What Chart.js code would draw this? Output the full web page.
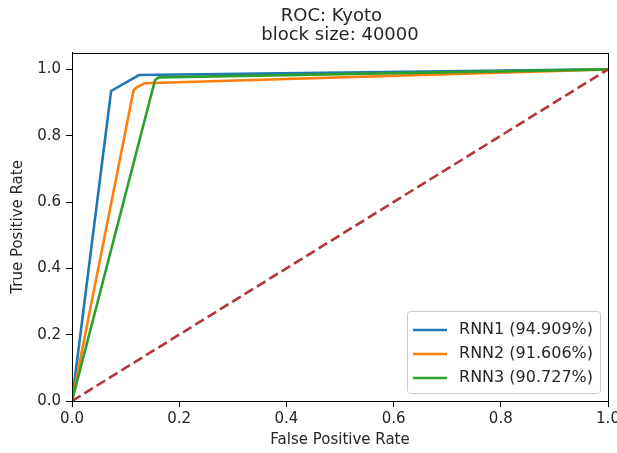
<!DOCTYPE html>
<html>
<head>
<meta charset="utf-8">
<script src="https://cdn.jsdelivr.net/npm/chart.js@4.4.1/dist/chart.umd.min.js"></script>
<style>
  html, body { margin: 0; padding: 0; background: #fff; }
  #wrap { width: 617px; height: 453px; }
</style>
</head>
<body>
<div id="wrap"><canvas id="c" width="617" height="453" style="width:617px;height:453px"></canvas></div>
<script>
// ---- data ----
const titleLines = ["ROC: Kyoto   ", "block size: 40000"];
const xLabel = "False Positive Rate";
const yLabel = "True Positive Rate";
const tickValues = [0, 0.2, 0.4, 0.6, 0.8, 1.0];

const seriesNames = ["RNN1 (94.909%)", "RNN2 (91.606%)", "RNN3 (90.727%)"];
const fprRNN1 = [0, 0.073, 0.125, 1];
const tprRNN1 = [0, 0.935, 0.983, 1];
const fprRNN2 = [0, 0.115, 0.121, 0.135, 1];
const tprRNN2 = [0, 0.938, 0.946, 0.958, 1];
const fprRNN3 = [0, 0.155, 0.162, 1];
const tprRNN3 = [0, 0.968, 0.976, 1];
const fprChance = [0, 1];
const tprChance = [0, 1];

const colors = ["#1f77b4", "#ff7f0e", "#2ca02c"];
const chanceColor = "#b3363c";
const textColor = "#262626";
const FONT = "'DejaVu Sans', sans-serif";

function pts(xs, ys) { return xs.map((x, i) => ({ x: x, y: ys[i] })); }

const datasets = [
  { label: seriesNames[0], data: pts(fprRNN1, tprRNN1), borderColor: colors[0], order: 4 },
  { label: seriesNames[1], data: pts(fprRNN2, tprRNN2), borderColor: colors[1], order: 3 },
  { label: seriesNames[2], data: pts(fprRNN3, tprRNN3), borderColor: colors[2], order: 2 },
  { label: "", data: pts(fprChance, tprChance), borderColor: chanceColor, borderDash: [10, 4.5], order: 1 }
].map(d => Object.assign({ showLine: true, pointRadius: 0, borderWidth: 2.6, fill: false, tension: 0 }, d));

// frame around the plot area (matplotlib spines)
const framePlugin = {
  id: 'frame',
  afterDatasetsDraw(chart) {
    const a = chart.chartArea, ctx = chart.ctx;
    ctx.save();
    ctx.strokeStyle = '#000';
    ctx.lineWidth = 1;
    ctx.strokeRect(Math.round(a.left) + 0.5, Math.round(a.top) + 0.5, Math.round(a.right - a.left), Math.round(a.bottom - a.top));
    ctx.restore();
  }
};

// legend drawn inside the plot area, lower right
const insideLegend = {
  id: 'insideLegend',
  afterDraw(chart) {
    const ctx = chart.ctx, a = chart.chartArea;
    const items = chart.data.datasets.filter(d => d.label);
    const fontSize = 16, rowH = 24, handle = 34, gap = 12, padX = 6, padY = 4;
    ctx.save();
    ctx.font = fontSize + "px " + FONT;
    const textW = Math.max(...items.map(d => ctx.measureText(d.label).width));
    const w = padX + handle + gap + textW + 7;
    const h = padY * 2 + rowH * items.length + 2;
    const x = a.right - 8 - w, y = a.bottom - 8 - h;
    ctx.fillStyle = 'rgba(255,255,255,0.85)';
    ctx.strokeStyle = '#cccccc';
    ctx.lineWidth = 1;
    ctx.beginPath();
    ctx.roundRect(x + 0.5, y + 0.5, w, h, 3);
    ctx.fill();
    ctx.stroke();
    items.forEach((d, i) => {
      const cy = y + padY + rowH * i + rowH / 2 + 3;
      ctx.strokeStyle = d.borderColor;
      ctx.lineWidth = 2.6;
      ctx.beginPath();
      ctx.moveTo(x + padX, cy);
      ctx.lineTo(x + padX + handle, cy);
      ctx.stroke();
      ctx.fillStyle = textColor;
      ctx.textBaseline = 'middle';
      ctx.textAlign = 'left';
      ctx.fillText(d.label, x + padX + handle + gap, cy);
    });
    ctx.restore();
  }
};

const tickFont = { family: FONT, size: 15 };

new Chart(document.getElementById('c'), {
  type: 'scatter',
  data: { datasets: datasets },
  plugins: [framePlugin, insideLegend],
  options: {
    responsive: false,
    animation: false,
    layout: { padding: { left: 0, right: 9, top: 0, bottom: 0 } },
    plugins: {
      legend: { display: false },
      tooltip: { enabled: false },
      title: {
        display: true,
        fullSize: false,
        text: titleLines,
        color: textColor,
        font: { family: FONT, size: 18, weight: 'normal', lineHeight: 1.05 },
        padding: { top: 7, bottom: 8 }
      }
    },
    scales: {
      x: {
        type: 'linear',
        min: 0, max: 1,
        afterBuildTicks: s => { s.ticks = tickValues.map(v => ({ value: v })); },
        afterFit: s => { s.height = 52; s.paddingLeft = 0; s.paddingRight = 0; },
        ticks: { color: textColor, font: tickFont, padding: 3, maxRotation: 0, autoSkip: false,
                 callback: v => Number(v).toFixed(1) },
        grid: { display: true, drawOnChartArea: false, drawTicks: true, tickLength: 6, color: '#000' },
        border: { display: true, color: '#000' },
        title: { display: true, text: xLabel, color: textColor, font: tickFont, padding: { top: 4, bottom: 4 } }
      },
      y: {
        type: 'linear',
        min: 0, max: 1.05,
        afterBuildTicks: s => { s.ticks = tickValues.map(v => ({ value: v })); },
        afterFit: s => { s.width = 72; s.paddingTop = 0; s.paddingBottom = 0; },
        ticks: { color: textColor, font: tickFont, padding: 5, autoSkip: false,
                 callback: v => Number(v).toFixed(1) },
        grid: { display: true, drawOnChartArea: false, drawTicks: true, tickLength: 6, color: '#000' },
        border: { display: true, color: '#000' },
        title: { display: true, text: yLabel, color: textColor, font: tickFont, padding: { top: 9, bottom: 4 } }
      }
    }
  }
});
</script>
</body>
</html>
